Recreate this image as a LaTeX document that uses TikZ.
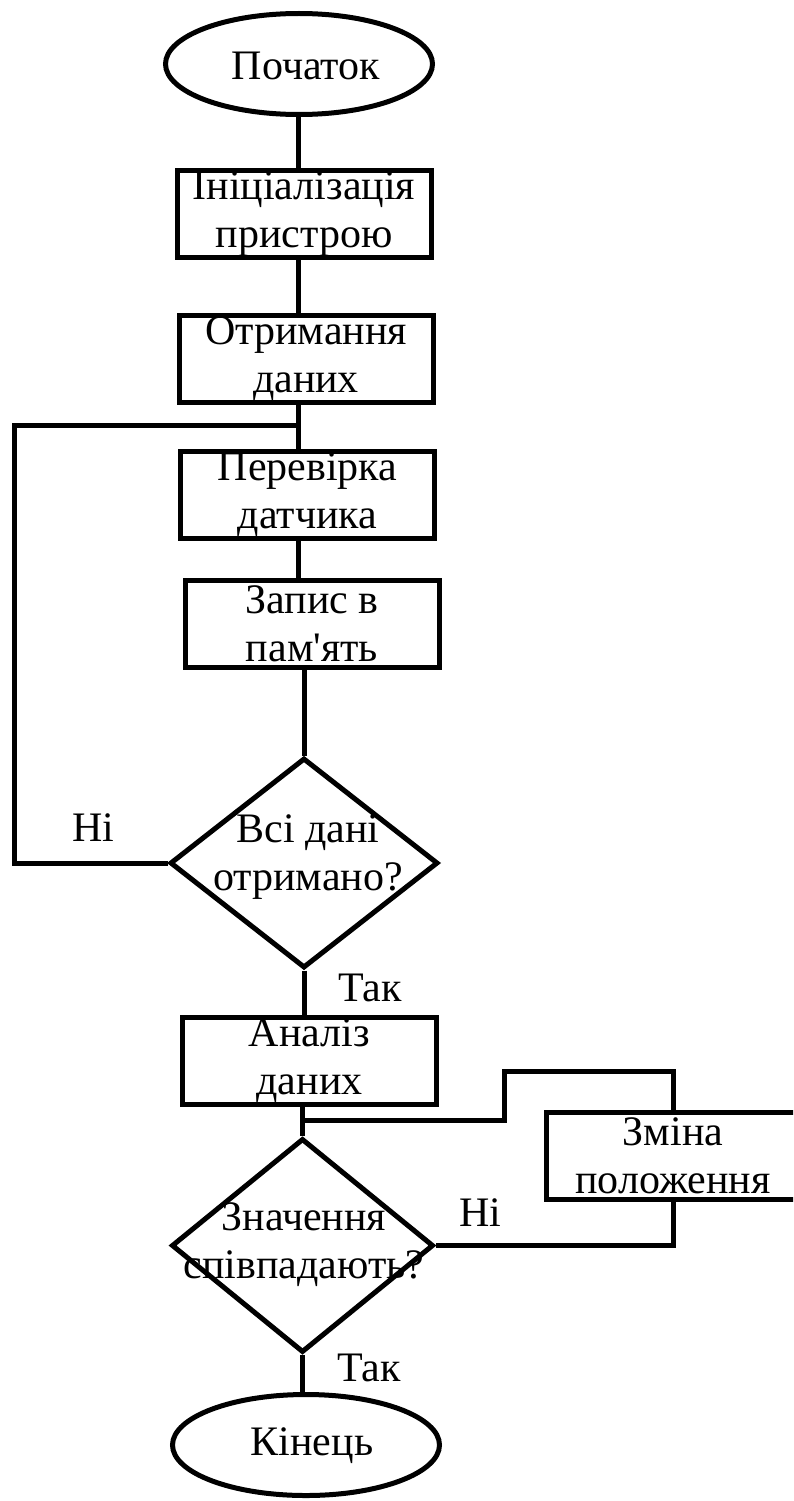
\documentclass[tikz,border=0pt]{standalone}
\usepackage{fontspec}
\setmainfont{Liberation Serif}[Ligatures=TeXOff]
\usetikzlibrary{shapes.geometric}
\begin{document}
\begin{tikzpicture}[x=1pt,y=-1pt,
  every node/.style={font=\fontsize{42}{48}\selectfont, text=black},
  term/.style={draw, line width=5pt, ellipse, inner sep=0pt, minimum width=267pt, minimum height=101pt},
  procbox/.style={draw, line width=5pt, rectangle, inner sep=0pt, minimum width=254pt, minimum height=87pt, align=center},
  decision/.style={draw, line width=5pt, diamond, inner sep=0pt},
  lbl/.style={inner sep=0pt, align=center},
  conn/.style={line width=5pt}
]
\useasboundingbox (0,0) rectangle (793,1501);
\fill[white] (0,0) rectangle (793,1501);
\begin{scope}
\clip (0,0) rectangle (793,1501);
\node[term] (start) at (299,64) {};
\node[lbl] (starttxt) at (306,66) {Початок};
\node[procbox] (b1) at (304,214) {Ініціалізація\\пристрою};
\node[procbox] (b2) at (306,359) {Отримання\\даних};
\node[procbox] (b3) at (307.5,494.5) {Перевірка\\датчика};
\node[procbox] (b4) at (312,623.5) {Запис в\\пам'ять};
\node[decision, minimum width=268pt, minimum height=210pt] (d1) at (304,863) {};
\node[lbl] (d1txt) at (308,857) {Всі дані\\отримано?};
\node[procbox] (b5) at (309.5,1061) {Аналіз\\даних};
\node[decision, minimum width=262pt, minimum height=214pt] (d2) at (302.5,1245.5) {};
\node[lbl] (d2txt) at (304,1245) {Значення\\співпадають?};
\node[procbox] (b6) at (673,1155.5) {Зміна\\положення};
\node[term] (stop) at (306,1445) {};
\node[lbl] (stoptxt) at (312,1446) {Кінець};

\coordinate (j1) at (298,425);
\coordinate (l1a) at (14,863);
\coordinate (l1b) at (14,425);
\coordinate (j2) at (302.5,1120);
\coordinate (r1) at (504,1120);
\coordinate (r2) at (504,1071);
\coordinate (r3) at (673,1071);
\coordinate (r4) at (673,1245.5);

\draw[conn] (start.south -| 298,0) -- (298,168);
\draw[conn] (298,258) -- (298,315);
\draw[conn] (298,403) -- (298,451);
\draw[conn] (298,538) -- (298,580);
\draw[conn] (d1.north |- b4.south) -- (d1.north);
\draw[conn] (d1.south) -- (d1.south |- b5.north);
\draw[conn] (d2.north |- b5.south) -- (d2.north);
\draw[conn] (d2.south) -- (d2.south |- stop.north);

\draw[conn] (d1.west) -- (l1a) -- (l1b) -- (j1);
\draw[conn] (j2) -- (r1) -- (r2) -- (r3) -- (b6.north -| r3);
\draw[conn] (b6.south -| r4) -- (r4) -- (d2.east);
\end{scope}

\node[lbl] (no1) at (93,828) {Ні};
\node[lbl] (yes1) at (370,988) {Так};
\node[lbl] (no2) at (480,1213) {Ні};
\node[lbl] (yes2) at (369,1368) {Так};
\end{tikzpicture}
\end{document}
